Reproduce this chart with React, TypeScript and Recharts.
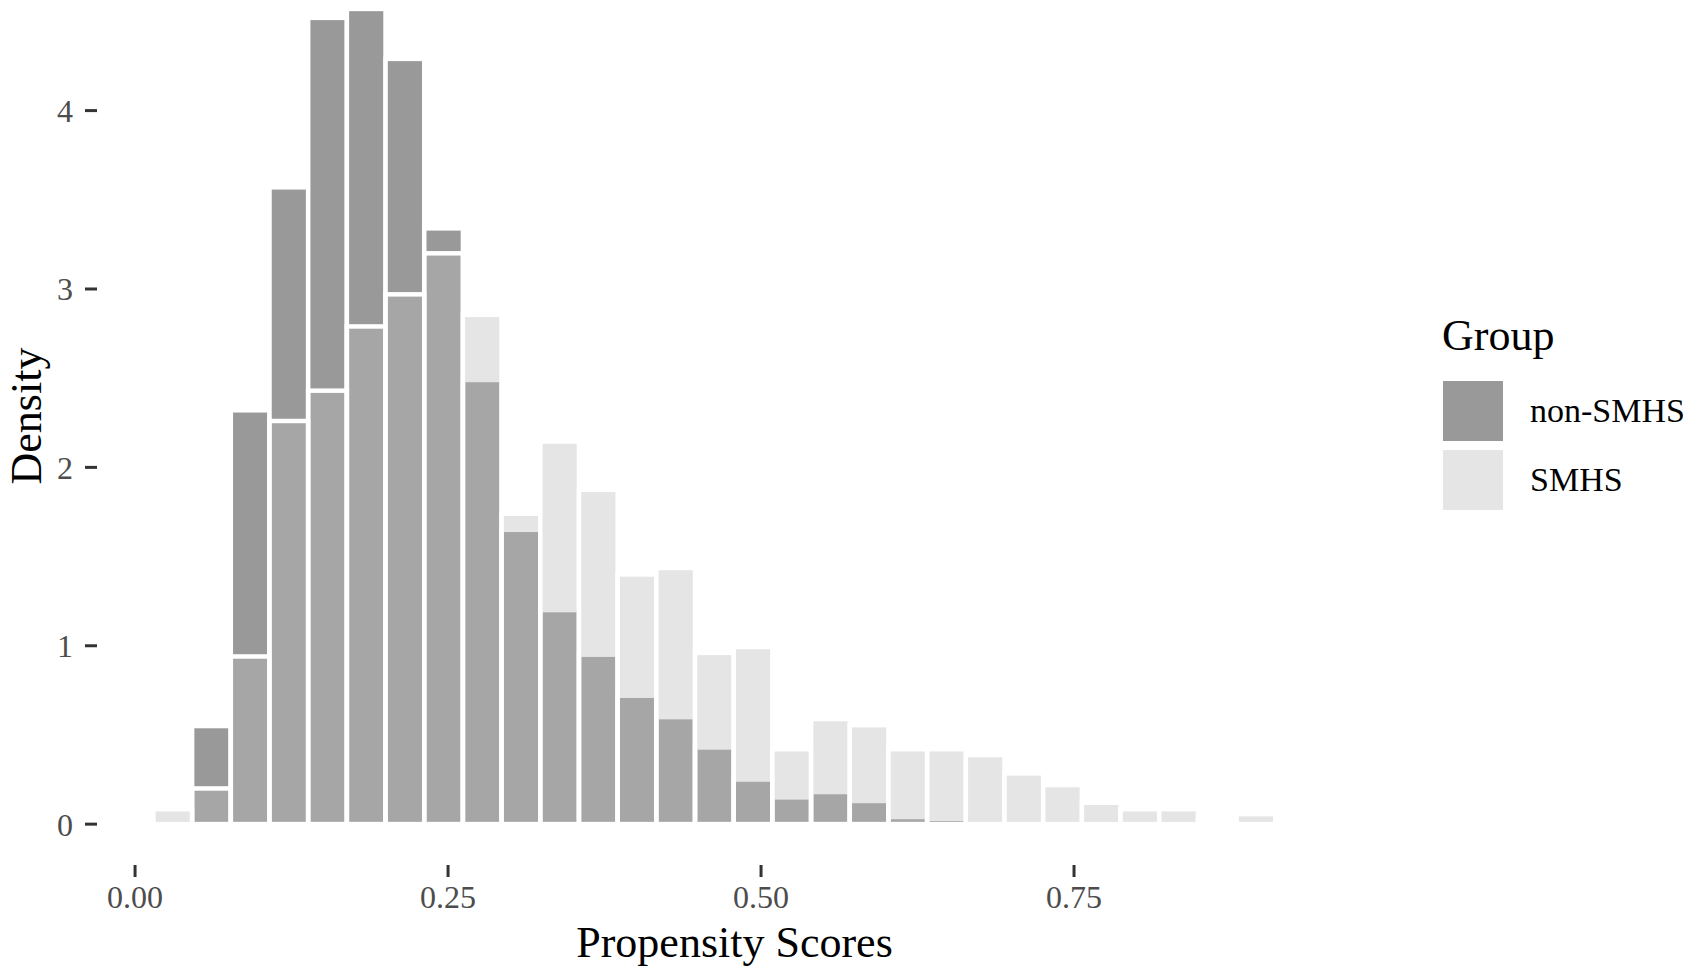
import { BarChart, Bar, XAxis, YAxis, Label } from 'recharts';

// histogram bins (centres) and densities
const binMids = [
  0.0300, 0.0609, 0.0918, 0.1227, 0.1536, 0.1845, 0.2154, 0.2463, 0.2772, 0.3081,
  0.3390, 0.3699, 0.4008, 0.4317, 0.4626, 0.4935, 0.5244, 0.5553, 0.5862, 0.6171,
  0.6480, 0.6789, 0.7098, 0.7407, 0.7716, 0.8025, 0.8334, 0.8643, 0.8952, 0.9261,
];
const nonSmhs = [
  0, 0.55, 2.32, 3.57, 4.52, 4.57, 4.29, 3.34, 2.49, 1.65,
  1.20, 0.95, 0.72, 0.60, 0.43, 0.25, 0.15, 0.18, 0.13, 0.04,
  0.03, 0.015, 0, 0, 0, 0, 0, 0, 0, 0,
];
const smhs = [
  0.084, 0.20, 0.94, 2.26, 2.43, 2.79, 2.97, 3.20, 2.855, 1.74,
  2.145, 1.874, 1.40, 1.436, 0.96, 0.993, 0.42, 0.589, 0.555, 0.42,
  0.42, 0.387, 0.285, 0.219, 0.12, 0.084, 0.084, 0.02, 0.056, 0.02,
];
const xTicks = [0, 0.25, 0.5, 0.75];
const yTicks = [0, 1, 2, 3, 4];
const groups = ['non-SMHS', 'SMHS'];

const DARK = '#999999';
const LIGHT = '#bbbbbb';
const LIGHT_ALPHA = 0.38;
const TICK_TEXT = '#4d4d4d';
const TICK_LINE = '#333333';
const FONT = '"Liberation Serif", "Times New Roman", serif';

const W = 1699;
const H = 1008;
const SHIFT = 33; // the reference is cropped at the top of the panel
const MARGIN = { top: 0, right: 327, bottom: 0, left: 0 };
const Y_AXIS_W = 97;
const X_AXIS_H = 110;
const X_DOMAIN = [-0.0304, 0.988];
const Y_DOMAIN = [-0.229, 4.805];
const BIN_WIDTH = 0.0309;
const OUTLINE = 4.5;

const plotW = W - MARGIN.left - MARGIN.right - Y_AXIS_W;
const barSize = (plotW * BIN_WIDTH) / (X_DOMAIN[1] - X_DOMAIN[0]);

const data = binMids.map((x, i) => ({ x, non: nonSmhs[i], smhs: smhs[i] }));

function DensityLabel({ viewBox }: any) {
  const vb = viewBox ?? { x: 0, y: 0, width: Y_AXIS_W, height: H - X_AXIS_H };
  const cx = vb.x + 41;
  const cy = vb.y + vb.height / 2;
  return (
    <text
      x={cx}
      y={cy}
      transform={`rotate(-90 ${cx} ${cy})`}
      textAnchor="middle"
      fontSize={44}
      fill="#000"
    >
      Density
    </text>
  );
}

function GroupLegend() {
  const fills = [DARK, LIGHT];
  const alphas = [1, LIGHT_ALPHA];
  return (
    <svg
      width={W}
      height={975}
      style={{ position: 'absolute', left: 0, top: 0, pointerEvents: 'none' }}
    >
      <text x={1442} y={350} fontSize={44} fill="#000">
        Group
      </text>
      {groups.map((g, i) => (
        <g key={g}>
          <rect
            x={1443}
            y={381 + i * 69}
            width={60}
            height={60}
            fill={fills[i]}
            fillOpacity={alphas[i]}
          />
          <text x={1530} y={422 + i * 69} fontSize={34} fill="#000">
            {g}
          </text>
        </g>
      ))}
    </svg>
  );
}

// bars are drawn one full bin wide, the white outline makes the gaps
function BinRect(props: any) {
  const { x, y, width, height, fill, fillOpacity } = props;
  if (!height || height <= 0) return null;
  const cx = x + width / 2;
  return (
    <rect
      x={cx - barSize / 2}
      y={y}
      width={barSize}
      height={height}
      fill={fill}
      fillOpacity={fillOpacity}
      stroke="#ffffff"
      strokeWidth={OUTLINE}
    />
  );
}

export default function App() {
  return (
    <div style={{ position: 'absolute', left: 0, top: 0, width: W, height: 975, fontFamily: FONT, overflow: 'hidden' }}>
      <div style={{ position: 'absolute', left: 0, top: -SHIFT }}>
        <BarChart
          width={W}
          height={H}
          data={data}
          margin={MARGIN}
          barGap={0}
          barCategoryGap="0%"
        >
          <XAxis
            xAxisId="a"
            dataKey="x"
            type="number"
            domain={X_DOMAIN}
            allowDataOverflow
            ticks={xTicks}
            tickFormatter={(v: number) => v.toFixed(2)}
            height={X_AXIS_H}
            axisLine={false}
            tickSize={12}
            tickMargin={8}
            tick={{ fill: TICK_TEXT, fontSize: 32 }}
            tickLine={{ stroke: TICK_LINE, strokeWidth: 3 }}
          >
            <Label value="Propensity Scores" position="insideBottom" offset={18} fontSize={44} fill="#000" />
          </XAxis>
          <XAxis
            xAxisId="b"
            dataKey="x"
            type="number"
            domain={X_DOMAIN}
            allowDataOverflow
            hide
          />
          <YAxis
            type="number"
            domain={Y_DOMAIN}
            allowDataOverflow
            ticks={yTicks}
            width={Y_AXIS_W}
            axisLine={false}
            tickSize={12}
            tickMargin={12}
            tick={{ fill: TICK_TEXT, fontSize: 32 }}
            tickLine={{ stroke: TICK_LINE, strokeWidth: 3 }}
          >
            <Label content={DensityLabel} />
          </YAxis>
          <Bar
            xAxisId="a"
            dataKey="non"
            name="non-SMHS"
            fill={DARK}
            shape={BinRect}
            isAnimationActive={false}
          />
          <Bar
            xAxisId="b"
            dataKey="smhs"
            name="SMHS"
            fill={LIGHT}
            fillOpacity={LIGHT_ALPHA}
            shape={BinRect}
            isAnimationActive={false}
          />
        </BarChart>
      </div>
      <GroupLegend />
    </div>
  );
}
